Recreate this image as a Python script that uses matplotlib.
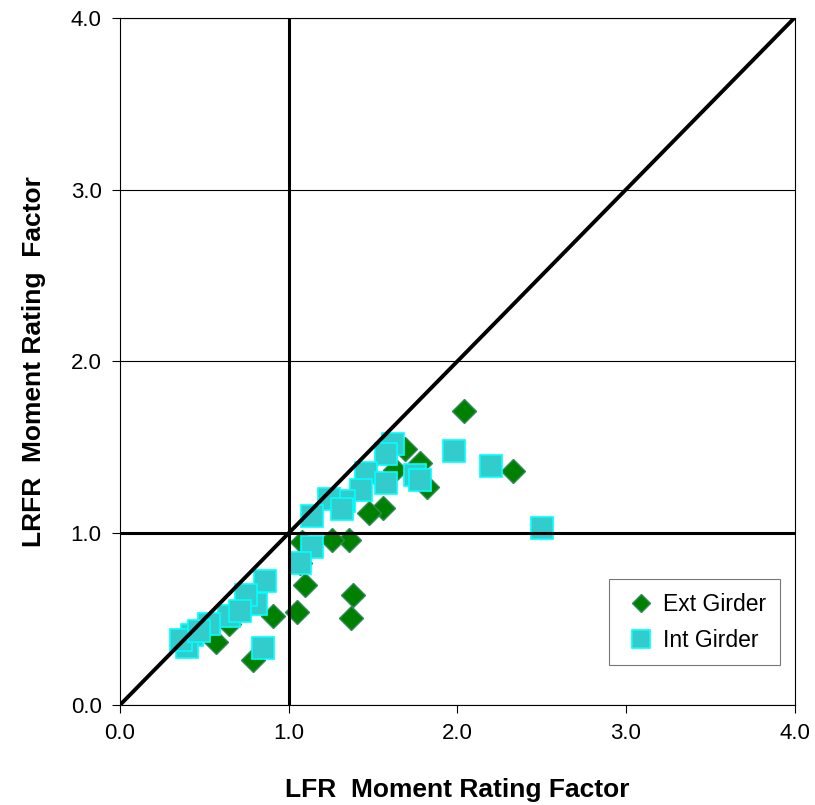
import matplotlib.pyplot as plt
from matplotlib.ticker import FormatStrFormatter

plt.rcParams['font.family'] = ['Liberation Sans', 'DejaVu Sans']

# Exterior girder rating factors (LFR, LRFR)
ext_lfr = [2.04, 2.33, 1.82, 1.78, 1.56, 1.48, 1.36, 1.26, 1.08, 1.07, 1.10,
           1.38, 1.37, 1.05, 0.91, 0.79, 0.57, 0.65, 0.42, 1.69, 1.63]
ext_lrfr = [1.71, 1.36, 1.27, 1.41, 1.15, 1.12, 0.96, 0.96, 0.95, 0.83, 0.70,
            0.64, 0.51, 0.54, 0.52, 0.26, 0.37, 0.47, 0.38, 1.49, 1.37]

# Interior girder rating factors (LFR, LRFR)
int_lfr = [1.98, 2.20, 2.50, 1.75, 1.78, 1.62, 1.58, 1.46, 1.58, 1.43, 1.33,
           1.24, 1.32, 1.14, 1.14, 1.07, 0.86, 0.81, 0.75, 0.85, 0.65, 0.53,
           0.43, 0.40, 0.36, 0.47, 0.71]
int_lrfr = [1.48, 1.39, 1.03, 1.34, 1.31, 1.52, 1.46, 1.35, 1.29, 1.25, 1.19,
            1.20, 1.14, 1.10, 0.92, 0.83, 0.72, 0.59, 0.64, 0.33, 0.52, 0.47,
            0.41, 0.34, 0.38, 0.43, 0.55]

ticks = [0.0, 1.0, 2.0, 3.0, 4.0]

fig = plt.figure(figsize=(8.15, 8.05), dpi=100)
ax = fig.add_axes([0.147, 0.124, 0.828, 0.854])

ax.plot(ext_lfr, ext_lrfr, linestyle='none', marker='D', markersize=12.5,
        markerfacecolor='#008000', markeredgecolor='#2e8b57',
        markeredgewidth=1.0, label='Ext Girder', zorder=3)
ax.plot(int_lfr, int_lrfr, linestyle='none', marker='s', markersize=16.5,
        markerfacecolor='#33cccc', markeredgecolor='#00ffff',
        markeredgewidth=1.2, label='Int Girder', zorder=4)

# reference lines: 1:1 and unit rating factor
ax.plot([0, 4], [0, 4], color='black', linewidth=2.8, zorder=5)
ax.axvline(1.0, color='black', linewidth=2.2, zorder=5)
ax.axhline(1.0, color='black', linewidth=2.2, zorder=5)

ax.set_xlim(0, 4)
ax.set_ylim(0, 4)
ax.set_xticks(ticks)
ax.set_yticks(ticks)
ax.xaxis.set_major_formatter(FormatStrFormatter('%.1f'))
ax.yaxis.set_major_formatter(FormatStrFormatter('%.1f'))
ax.tick_params(direction='out', length=6, width=0.8, labelsize=16, pad=7)
ax.yaxis.grid(True, color='black', linewidth=0.8)
ax.set_axisbelow(True)
for s in ax.spines.values():
    s.set_linewidth(0.8)

ax.set_xlabel('LFR  Moment Rating Factor', fontsize=19, fontweight='bold',
              labelpad=24)
ax.set_ylabel('LRFR  Moment Rating  Factor', fontsize=19, fontweight='bold',
              labelpad=18)

leg = ax.legend(loc='lower right', bbox_to_anchor=(0.978, 0.058),
                borderaxespad=0, fontsize=16.5, frameon=True, fancybox=False,
                handletextpad=0.15, handlelength=1.6, borderpad=0.6,
                labelspacing=0.55, markerscale=0.75)
leg.get_frame().set_edgecolor('#555555')
leg.get_frame().set_linewidth(0.8)

fig.savefig('out.png', dpi=100)
